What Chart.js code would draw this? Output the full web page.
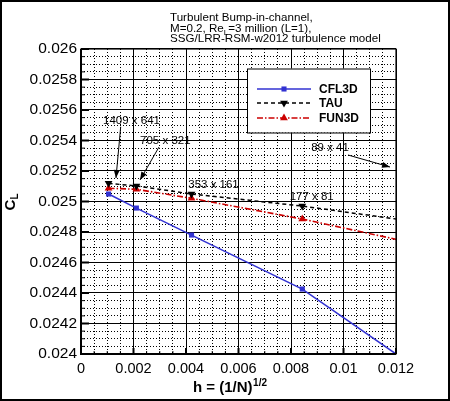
<!DOCTYPE html>
<html><head><meta charset="utf-8">
<script src="https://cdn.jsdelivr.net/npm/chart.js@4"></script>
<style>html,body{margin:0;padding:0;background:#fff}#wrap{width:450px;height:401px;position:relative}</style>
</head><body><div id="wrap"><canvas id="c" width="450" height="401"></canvas></div>
<script>
// ---- data ----
const hValues = [0.00105, 0.00211, 0.00421, 0.00843, 0.01686];
const cfl3d = [0.025049, 0.024957, 0.024780, 0.024426, 0.023420];
const tau   = [0.025119, 0.025102, 0.025049, 0.024970, 0.024770];
const fun3d = [0.025087, 0.025080, 0.025021, 0.024885, 0.024571];
const seriesNames = ['CFL3D', 'TAU', 'FUN3D'];
const xTickLabels = ['0', '0.002', '0.004', '0.006', '0.008', '0.01', '0.012'];
const yTickLabels = ['0.024', '0.0242', '0.0244', '0.0246', '0.0248', '0.025', '0.0252', '0.0254', '0.0256', '0.0258', '0.026'];
const gridNotes = [
  {text: '1409 x 641', x: 0.001924, y: 0.025528, arrow: [0.001512, 0.025490, 0.001333, 0.025154]},
  {text: '705 x 321',  x: 0.003212, y: 0.025397, arrow: [0.002971, 0.025357, 0.002248, 0.025141]},
  {text: '353 x 161',  x: 0.005048, y: 0.025108, arrow: null},
  {text: '177 x 81',   x: 0.008789, y: 0.025031, arrow: null},
  {text: '89 x 41',    x: 0.009486, y: 0.025349, arrow: [0.010171, 0.025305, 0.011771, 0.025226]}
];

const X_MIN = 0, X_MAX = 0.012, X_MINOR = 0.0005;
const Y_MIN = 0.024, Y_MAX = 0.026, Y_MINOR = 0.00005;
const SUB = 4;

const colors = {cfl: '#3232d2', tau: '#000000', fun: '#cc0000'};

function pts(vals) { return hValues.map((h, i) => ({x: h, y: vals[i]})); }

const FONT = '"Liberation Sans", Arial, Helvetica, sans-serif';

const decor = {
  id: 'decor',
  beforeDraw(chart) {
    const ctx = chart.ctx;
    ctx.save();
    ctx.fillStyle = '#fff';
    ctx.fillRect(0, 0, chart.width, chart.height);
    ctx.restore();
  },
  afterDraw(chart) {
    const ctx = chart.ctx;
    const a = chart.chartArea;
    const xs = chart.scales.x, ys = chart.scales.y;
    ctx.save();
    // inward ticks
    ctx.strokeStyle = '#000';
    xs.ticks.forEach((t, i) => {
      const px = xs.getPixelForValue(t.value);
      const major = i % SUB === 0;
      ctx.lineWidth = major ? 2 : 1;
      ctx.beginPath();
      ctx.moveTo(px, a.bottom);
      ctx.lineTo(px, a.bottom - (major ? 6 : 3));
      ctx.stroke();
    });
    ys.ticks.forEach((t, i) => {
      const py = ys.getPixelForValue(t.value);
      const major = i % SUB === 0;
      ctx.lineWidth = major ? 2 : 1;
      ctx.beginPath();
      ctx.moveTo(a.left, py);
      ctx.lineTo(a.left + (major ? 8 : 4), py);
      ctx.stroke();
    });
    // axis frame
    ctx.lineWidth = 1.2;
    ctx.strokeRect(a.left, a.top, a.right - a.left, a.bottom - a.top);
    ctx.lineWidth = 2;
    ctx.beginPath();
    ctx.moveTo(a.left, a.top); ctx.lineTo(a.left, a.bottom); ctx.lineTo(a.right, a.bottom);
    ctx.stroke();

    // legend
    const lx = 247, ly = 68.5, lw = 123, lh = 64;
    ctx.fillStyle = '#fff';
    ctx.fillRect(lx, ly, lw, lh);
    ctx.lineWidth = 1;
    ctx.strokeStyle = '#000';
    ctx.strokeRect(lx + 0.5, ly + 0.5, lw, lh);
    const rows = [89, 103, 118];
    chart.data.datasets.forEach((ds, i) => {
      const y = rows[i];
      ctx.save();
      ctx.strokeStyle = ds.borderColor;
      ctx.lineWidth = ds.borderWidth;
      ctx.setLineDash(ds.borderDash || []);
      ctx.beginPath();
      ctx.moveTo(257, y); ctx.lineTo(311, y);
      ctx.stroke();
      ctx.setLineDash([]);
      ctx.fillStyle = ds.pointBackgroundColor;
      drawMarker(ctx, ds.pointStyle, ds.pointRotation || 0, 284, y, ds.pointRadius);
      ctx.restore();
      ctx.fillStyle = '#000';
      ctx.font = 'bold 12px ' + FONT;
      ctx.textBaseline = 'middle';
      ctx.textAlign = 'left';
      ctx.fillText(ds.label, 319, y + 0.5);
    });

    // annotations
    ctx.font = '11.5px ' + FONT;
    ctx.fillStyle = '#000';
    ctx.textAlign = 'center';
    ctx.textBaseline = 'middle';
    gridNotes.forEach(n => {
      ctx.fillText(n.text, xs.getPixelForValue(n.x), ys.getPixelForValue(n.y));
      if (n.arrow) {
        const x1 = xs.getPixelForValue(n.arrow[0]), y1 = ys.getPixelForValue(n.arrow[1]);
        const x2 = xs.getPixelForValue(n.arrow[2]), y2 = ys.getPixelForValue(n.arrow[3]);
        drawArrow(ctx, x1, y1, x2, y2);
      }
    });

    // title
    ctx.textAlign = 'left';
    ctx.textBaseline = 'alphabetic';
    const TF = '11.6px ' + FONT;
    ctx.font = TF;
    ctx.fillText('Turbulent Bump-in-channel,', 170, 21);
    let tx = 170;
    const p1 = 'M=0.2, Re';
    ctx.fillText(p1, tx, 31.5); tx += ctx.measureText(p1).width;
    ctx.font = '8px ' + FONT;
    ctx.fillText('L', tx, 34.5); tx += ctx.measureText('L').width;
    ctx.font = TF;
    ctx.fillText('=3 million (L=1),', tx, 31.5);
    ctx.fillText('SSG/LRR-RSM-w2012 turbulence model', 170, 42);

    // x axis title
    ctx.font = 'bold 15px ' + FONT;
    const xt = 'h = (1/N)';
    const xw = ctx.measureText(xt).width;
    const x0 = 193;
    ctx.fillText(xt, x0, 392);
    ctx.font = 'bold 10px ' + FONT;
    ctx.fillText('1/2', x0 + xw + 0.5, 386);

    // y axis title
    ctx.save();
    ctx.translate(15, 205);
    ctx.rotate(-Math.PI / 2);
    ctx.font = 'bold 15px ' + FONT;
    ctx.textAlign = 'center';
    const cw = ctx.measureText('C').width;
    ctx.fillText('C', 0, 0);
    ctx.font = 'bold 10px ' + FONT;
    ctx.textAlign = 'left';
    ctx.fillText('L', cw / 2, 3);
    ctx.restore();

    // outer frame
    ctx.lineWidth = 2;
    ctx.strokeStyle = '#000';
    ctx.strokeRect(1, 1, chart.width - 2, chart.height - 2);
    ctx.restore();
  }
};

function drawMarker(ctx, style, rot, x, y, r) {
  ctx.beginPath();
  if (style === 'rect') {
    const s = r * Math.SQRT2 / 2;
    ctx.rect(x - s, y - s, 2 * s, 2 * s);
  } else {
    const sgn = rot === 180 ? -1 : 1;
    ctx.moveTo(x, y - sgn * r);
    ctx.lineTo(x - r * 0.866, y + sgn * r * 0.5);
    ctx.lineTo(x + r * 0.866, y + sgn * r * 0.5);
    ctx.closePath();
  }
  ctx.fill();
}

function drawArrow(ctx, x1, y1, x2, y2) {
  ctx.save();
  ctx.strokeStyle = '#000';
  ctx.fillStyle = '#000';
  ctx.lineWidth = 1;
  ctx.beginPath();
  ctx.moveTo(x1, y1); ctx.lineTo(x2, y2);
  ctx.stroke();
  const ang = Math.atan2(y2 - y1, x2 - x1);
  const L = 8, W = 3;
  ctx.beginPath();
  ctx.moveTo(x2, y2);
  ctx.lineTo(x2 - L * Math.cos(ang) + W * Math.sin(ang), y2 - L * Math.sin(ang) - W * Math.cos(ang));
  ctx.lineTo(x2 - L * Math.cos(ang) - W * Math.sin(ang), y2 - L * Math.sin(ang) + W * Math.cos(ang));
  ctx.closePath();
  ctx.fill();
  ctx.restore();
}

function minorTicks(min, max, step) {
  const n = Math.round((max - min) / step);
  const out = [];
  for (let i = 0; i <= n; i++) out.push({value: min + i * step});
  return out;
}

const gridOpts = {
  color: '#000',
  lineWidth: 1,
  drawTicks: false
};
const borderOpts = {
  display: false,
  dash: ctx => (ctx.tick && ctx.index % SUB !== 0) ? [1, 2] : []
};

new Chart(document.getElementById('c'), {
  type: 'line',
  data: {
    datasets: [
      {label: seriesNames[0], data: pts(cfl3d), borderColor: colors.cfl, backgroundColor: colors.cfl,
       pointBackgroundColor: colors.cfl, pointBorderColor: colors.cfl, borderWidth: 1.5,
       pointStyle: 'rect', pointRadius: 3.6, pointBorderWidth: 0},
      {label: seriesNames[1], data: pts(tau), borderColor: colors.tau, backgroundColor: colors.tau,
       pointBackgroundColor: colors.tau, pointBorderColor: colors.tau, borderWidth: 1.5, borderDash: [4, 3],
       pointStyle: 'triangle', pointRotation: 180, pointRadius: 4.5, pointBorderWidth: 0},
      {label: seriesNames[2], data: pts(fun3d), borderColor: colors.fun, backgroundColor: colors.fun,
       pointBackgroundColor: colors.fun, pointBorderColor: colors.fun, borderWidth: 1.6, borderDash: [6, 2, 1.5, 2],
       pointStyle: 'triangle', pointRadius: 4.5, pointBorderWidth: 0}
    ]
  },
  options: {
    responsive: false,
    animation: false,
    layout: {padding: {left: 0, top: 49, right: 54, bottom: 0}},
    plugins: {legend: {display: false}, tooltip: {enabled: false}, title: {display: false}},
    elements: {line: {tension: 0}},
    scales: {
      x: {
        type: 'linear', min: X_MIN, max: X_MAX,
        afterBuildTicks: s => { s.ticks = minorTicks(X_MIN, X_MAX, X_MINOR); },
        afterFit: s => { s.height = 47; },
        grid: gridOpts, border: borderOpts,
        ticks: {autoSkip: false, maxRotation: 0, padding: 6, color: '#000',
          font: {family: FONT, size: 14.5},
          callback: (v, i) => i % SUB === 0 ? xTickLabels[i / SUB] : ''}
      },
      y: {
        type: 'linear', min: Y_MIN, max: Y_MAX,
        afterBuildTicks: s => { s.ticks = minorTicks(Y_MIN, Y_MAX, Y_MINOR); },
        afterFit: s => { s.width = 81; },
        grid: gridOpts, border: borderOpts,
        ticks: {autoSkip: false, padding: 4, color: '#000',
          font: {family: FONT, size: 15.5},
          callback: (v, i) => i % SUB === 0 ? yTickLabels[i / SUB] : ''}
      }
    }
  },
  plugins: [decor]
});
</script>
</body></html>
